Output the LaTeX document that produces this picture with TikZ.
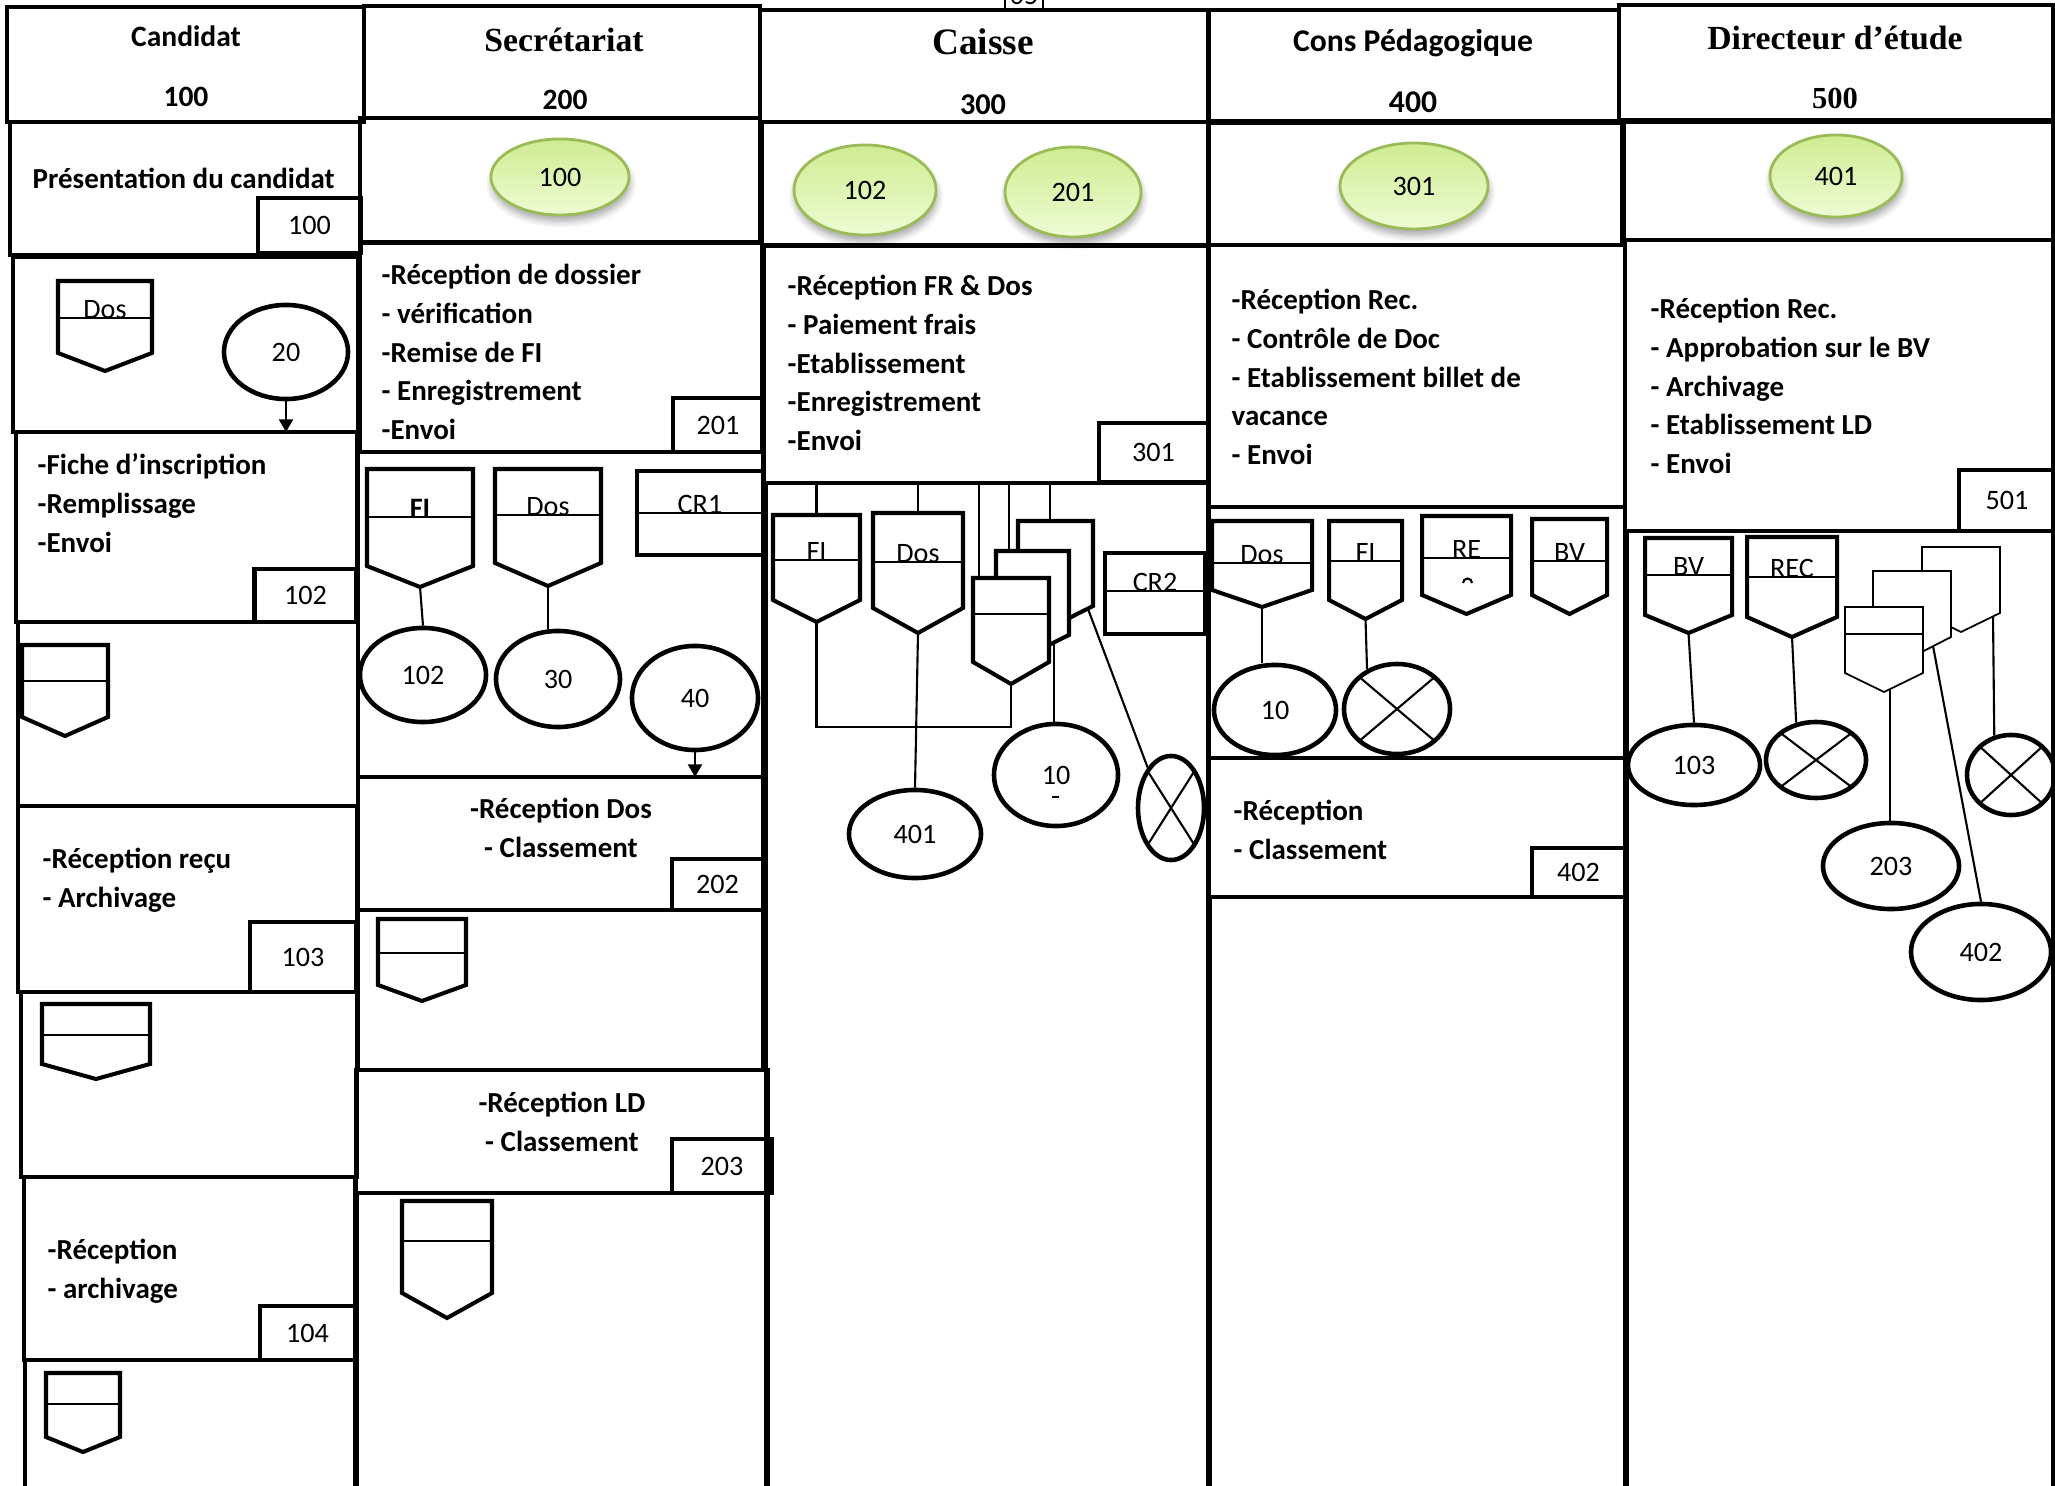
\documentclass[tikz,border=0pt]{standalone}
\usepackage{fontspec}
\setmainfont{Carlito}
\newfontfamily\serifhd{Liberation Serif}
\usetikzlibrary{shapes.geometric,arrows.meta,shadows.blur,calc}

\definecolor{gborder}{RGB}{155,187,89}
\definecolor{gtop}{RGB}{207,236,145}
\definecolor{gbot}{RGB}{238,252,212}

\newcommand{\txtfont}{\fontsize{8.25}{11}\selectfont\bfseries}
\newcommand{\numfont}{\fontsize{8}{10}\selectfont}

% document symbol: name, left x, top y, right x, side y, tip y, rule y, label
\newcommand{\docsym}[9][doc]{%
  \draw[#1] (#3,#4) -- (#5,#4) -- (#5,#6) -- ({(#3+#5)/2},#7) -- (#3,#6) -- cycle;
  \coordinate (#2-top) at ({(#3+#5)/2},#4);
  \coordinate (#2-tip) at ({(#3+#5)/2},#7);
  \if\relax\detokenize{#8}\relax\else
    \draw[docline] (#3,#8) -- (#5,#8);
    \node[doclabel] (#2) at ({(#3+#5)/2},{#8+1}) {#9};
  \fi}

\tikzset{
  cell/.style={line width=1.4pt},
  doc/.style={draw, fill=white, line width=1.15pt},
  thindoc/.style={draw, fill=white, line width=0.5pt},
  docline/.style={line width=0.6pt},
  doclabel/.style={font=\numfont, anchor=base, inner sep=0pt},
  link/.style={line width=0.6pt},
  arrowln/.style={line width=0.6pt, -{Triangle[width=4pt,length=3.6pt]}},
  circ/.style={draw, ellipse, line width=1.3pt, inner sep=0pt, font=\numfont},
  crossed/.style={circ, path picture={\draw[line width=0.6pt]
      (path picture bounding box.north west) -- (path picture bounding box.south east)
      (path picture bounding box.north east) -- (path picture bounding box.south west);}},
  gcirc/.style={ellipse, draw=gborder, line width=0.8pt, top color=gtop, bottom color=gbot,
      blur shadow={shadow xshift=0.3pt, shadow yshift=-1.8pt, shadow blur steps=6, shadow opacity=35},
      inner sep=0pt, font=\numfont},
  tag/.style={draw, line width=1.3pt, inner sep=0pt, font=\numfont},
  txt/.style={font=\txtfont, align=left, anchor=west, inner sep=0pt},
  ctxt/.style={font=\txtfont, align=center, inner sep=0pt},
  head/.style={anchor=base, inner sep=0pt, font=\fontsize{8.4}{10}\selectfont\bfseries},
  ell/.style 2 args={minimum width=#1, minimum height=#2},
}

\begin{document}
\begin{tikzpicture}[x=0.01cm, y=-0.01cm]
\useasboundingbox (0,0) rectangle (2055,1486);

% Cells: Candidat
\draw[cell] (7,7) rectangle (364,122);
\draw[cell] (10,122) rectangle (360,255);
\draw[cell] (13,257) rectangle (358,432);
\draw[cell] (16,432) rectangle (357,622);
\draw[cell] (18,622) rectangle (358,806);
\draw[cell] (18,806) rectangle (357,992);
\draw[cell] (21,992) rectangle (357,1177);
\draw[cell] (24,1177) rectangle (355,1360);
\draw[cell] (25,1500) |- (355,1360) -- (355,1500);

% Cells: Secretariat
\draw[cell] (364,6) rectangle (760,118);
\draw[cell] (360,118) rectangle (760,242);
\draw[cell] (360,243) rectangle (762,452);
\draw[cell] (358,452) rectangle (763,777);
\draw[cell] (358,777) rectangle (763,910);
\draw[cell] (358,910) rectangle (763,1070);
\draw[cell] (356,1070) rectangle (768,1193);
\draw[cell] (357,1500) |- (768,1193) -- (768,1500);

% Cells: Caisse
\draw[line width=0.5pt] (1005,-10) rectangle (1043,9);
\node[font=\numfont, anchor=base, inner sep=0pt] (pg) at (1024,5) {05};
\draw[cell] (760,10) rectangle (1208,122);
\draw[cell] (762,122) rectangle (1208,245);
\draw[cell] (764,246) rectangle (1208,483);
\draw[cell] (766,1500) |- (1208,483) -- (1208,1500);

% Cells: Cons Pedagogique
\draw[cell] (1209,10) rectangle (1619,121);
\draw[cell] (1209,123) rectangle (1622,245);
\draw[cell] (1209,245) rectangle (1625,507);
\draw[cell] (1209,507) rectangle (1625,758);
\draw[cell] (1209,758) rectangle (1625,897);
\draw[cell] (1210,1500) |- (1625,897) -- (1625,1500);

% Cells: Directeur
\draw[cell] (1619,5) rectangle (2053,120);
\draw[cell] (1624,122) rectangle (2053,240);
\draw[cell] (1625,240) rectangle (2053,531);
\draw[cell] (1627,1500) |- (2053,531) -- (2053,1500);

% Headers
\node[head] (hCand) at (186,47) {Candidat};
\node[head] (nCand) at (186,107) {100};
\node[head, font=\serifhd\fontsize{9.6}{12}\selectfont\bfseries] (hSec) at (564,52) {Secrétariat};
\node[head] (nSec) at (565,110) {200};
\node[head, font=\serifhd\fontsize{10.6}{12}\selectfont\bfseries] (hCai) at (983,55) {Caisse};
\node[head, font=\fontsize{8.6}{10}\selectfont\bfseries] (nCai) at (983,115) {300};
\node[head, font=\fontsize{9}{11}\selectfont\bfseries] (hCons) at (1413,52) {Cons Pédagogique};
\node[head, font=\fontsize{9}{11}\selectfont\bfseries] (nCons) at (1413,113) {400};
\node[head, font=\serifhd\fontsize{9.6}{12}\selectfont\bfseries] (hDir) at (1835,50) {Directeur d’étude};
\node[head, font=\serifhd\fontsize{8.7}{10}\selectfont\bfseries] (nDir) at (1835,109) {500};

% Green bubbles
\node[gcirc, ell={1.38cm}{0.76cm}] (g100) at (560,177) {100};
\node[gcirc, ell={1.42cm}{0.90cm}] (g102) at (865,190) {102};
\node[gcirc, ell={1.36cm}{0.90cm}] (g201) at (1073,192) {201};
\node[gcirc, ell={1.48cm}{0.86cm}] (g301) at (1414,186) {301};
\node[gcirc, ell={1.32cm}{0.82cm}] (g401) at (1836,176) {401};

% Candidat
\node[txt] (presCand) at (32,178) {Présentation du candidat};
\node[tag, minimum width=1.03cm, minimum height=0.55cm] (t100) at (309.5,225.5) {100};
\docsym{dosCand}{58}{281}{152}{353}{371}{318}{Dos}
\node[circ, ell={1.24cm}{0.94cm}] (c20) at (286,352) {20};
\node[txt] (ficheCand) at (37,503) {-Fiche d’inscription\\-Remplissage\\-Envoi};
\node[tag, minimum width=1.02cm, minimum height=0.53cm] (t102) at (305.5,595.5) {102};
\docsym{docCandA}{22}{645}{108}{717}{736}{681}{}
\node[txt] (recuCand) at (42,880) {-Réception reçu\\- Archivage};
\node[tag, minimum width=1.06cm, minimum height=0.70cm] (t103) at (303,957) {103};
\docsym{docCandB}{42}{1004}{150}{1064}{1079}{1035}{}
\node[txt] (archCand) at (47,1271) {-Réception\\- archivage};
\node[tag, minimum width=0.95cm, minimum height=0.54cm] (t104) at (307.5,1333) {104};
\docsym{docCandC}{46}{1373}{120}{1437}{1452}{1404}{}

\coordinate (r4Cand) at (0,432);
\draw[arrowln] (c20.south) -- (c20.south |- r4Cand);

% Secretariat
\node[txt] (dossSec) at (381,352) {-Réception de dossier\\- vérification\\-Remise de FI\\- Enregistrement\\-Envoi};
\node[tag, minimum width=0.90cm, minimum height=0.54cm] (t201) at (718,425) {201};
\docsym{fiSec}{367}{469}{473}{566}{587}{517}{\bfseries FI}
\docsym{dosSec}{495}{469}{601}{563}{586}{515}{Dos}
\draw[doc] (637,471) rectangle (763,555);
\draw[docline] (637,513) -- (763,513);
\node[doclabel] (cr1) at (700,514) {CR1};
\node[circ, ell={1.26cm}{0.94cm}] (c102S) at (423,675) {102};
\node[circ, ell={1.24cm}{0.96cm}] (c30S) at (558,679) {30};
\node[circ, ell={1.26cm}{1.04cm}] (c40S) at (695,698) {40};
\node[ctxt] (dosRecSec) at (561,828) {-Réception Dos\\- Classement};
\node[tag, minimum width=0.91cm, minimum height=0.51cm] (t202) at (717.5,884.5) {202};
\docsym{docSecA}{378}{919}{466}{985}{1001}{953}{}
\node[ctxt] (ldSec) at (562,1122) {-Réception LD\\- Classement};
\node[tag, minimum width=1.0cm, minimum height=0.54cm] (t203) at (722,1166) {203};
\docsym{docSecB}{402}{1201}{492}{1293}{1318}{1241}{}

\coordinate (r5Sec) at (0,777);
\draw[link] (fiSec-tip) -- (c102S.north);
\draw[link] (dosSec-tip) -- (dosSec-tip |- c30S.north);
\draw[arrowln] (c40S.south) -- (c40S.south |- r5Sec);

% Caisse
\node[txt] (fraisCai) at (787,363) {-Réception FR \& Dos\\- Paiement frais\\-Etablissement\\-Enregistrement\\-Envoi};
\node[tag, minimum width=1.09cm, minimum height=0.59cm] (t301) at (1153.5,452.5) {301};
\docsym{fiCai}{773}{515}{860}{600}{622}{560}{FI}
\docsym{dosCai}{873}{513}{963}{608}{633}{562}{Dos}
\docsym{stBack}{1018}{521}{1093}{606}{625}{}{}
\docsym{stMid}{996}{551}{1069}{635}{653}{}{}
\docsym{stFront}{973}{578}{1049}{662}{684}{614}{}
\draw[doc] (1105,553) rectangle (1205,634);
\draw[docline] (1105,591) -- (1205,591);
\node[doclabel] (cr2) at (1155,592) {CR2};
\node[circ, ell={1.32cm}{0.88cm}] (c401C) at (915,834) {401};
\node[circ, ell={1.24cm}{1.02cm}] (c10C) at (1056,775) {10};
\draw[link] (1052,797) -- (1059,797);
\node[crossed, ell={0.66cm}{1.04cm}] (xC) at (1171,808) {};

\coordinate (cTop) at (0,483);
\coordinate (cBus) at (0,727);
\coordinate (stFrontIn) at (979,578);
\coordinate (stMidIn) at (1009,551);
\coordinate (stBackIn) at (1050,521);
\coordinate (stMidFoot) at (1054,643);
\coordinate (stBackFoot) at (1088,609);
\draw[link] (fiCai-top) -- (fiCai-top |- cTop);
\draw[link] (dosCai-top) -- (dosCai-top |- cTop);
\draw[link] (stFrontIn) -- (stFrontIn |- cTop);
\draw[link] (stMidIn) -- (stMidIn |- cTop);
\draw[link] (stBackIn) -- (stBackIn |- cTop);
\draw[link] (fiCai-tip) -- (fiCai-tip |- cBus) -- (stFront-tip |- cBus) -- (stFront-tip);
\draw[link] (dosCai-tip) -- (c401C.north);
\draw[link] (stMidFoot) -- (stMidFoot |- c10C.north);
\draw[link] (stBackFoot) -- (xC.120);

% Cons Pedagogique
\node[txt] (recPed) at (1231,377) {-Réception Rec.\\- Contrôle de Doc\\- Etablissement billet de\\vacance\\- Envoi};
\docsym{dosPed}{1212}{521}{1312}{590}{607}{563}{Dos}
\docsym{fiPed}{1329}{521}{1402}{600}{619}{561}{FI}
\docsym{rePed}{1422}{516}{1511}{595}{614}{558}{RE}
\docsym{bvPed}{1532}{519}{1607}{595}{614}{561}{BV}
\draw[link] (1463,583) arc[start angle=180, end angle=0, radius=0.045cm];
\node[circ, ell={1.22cm}{0.90cm}] (c10P) at (1275,710) {10};
\node[crossed, ell={1.06cm}{0.90cm}] (xP) at (1397,709) {};
\node[txt] (classPed) at (1233,830) {-Réception\\- Classement};
\node[tag, minimum width=0.93cm, minimum height=0.49cm] (t402) at (1578.5,872.5) {402};

\draw[link] (dosPed-tip) -- (dosPed-tip |- c10P.north);
\draw[link] (fiPed-tip) -- (xP.127);

% Directeur
\node[txt] (recDirTxt) at (1650,386) {-Réception Rec.\\- Approbation sur le BV\\- Archivage\\- Etablissement LD\\- Envoi};
\node[tag, minimum width=0.96cm, minimum height=0.61cm] (t501) at (2007,500.5) {501};
\docsym{bvDir}{1645}{538}{1732}{615}{633}{575}{BV}
\docsym{recDir}{1747}{537}{1837}{617}{637}{577}{REC}
\docsym[thindoc]{dstBack}{1922}{547}{2000}{613}{632}{}{}
\docsym[thindoc]{dstMid}{1873}{571}{1951}{637}{657}{}{}
\docsym[thindoc]{dstFront}{1845}{607}{1923}{673}{692}{634}{}
\node[circ, ell={1.32cm}{0.80cm}] (c103D) at (1694,765) {103};
\node[crossed, ell={1.00cm}{0.76cm}] (xD1) at (1816,760) {};
\node[circ, ell={1.36cm}{0.86cm}] (c203D) at (1891,866) {203};
\node[circ, ell={1.40cm}{0.96cm}] (c402D) at (1981,952) {402};
\node[crossed, ell={0.88cm}{0.80cm}] (xD2) at (2011,775) {};

\coordinate (dstFrontFoot) at (1890,689);
\coordinate (dstMidFoot) at (1933,646);
\coordinate (dstBackFoot) at (1993,617);
\draw[link] (bvDir-tip) -- (c103D.north);
\draw[link] (recDir-tip) -- (xD1.118);
\draw[link] (dstFrontFoot) -- (dstFrontFoot |- c203D.north);
\draw[link] (dstMidFoot) -- (c402D.north);
\draw[link] (dstBackFoot) -- (xD2.113);

\end{tikzpicture}
\end{document}
